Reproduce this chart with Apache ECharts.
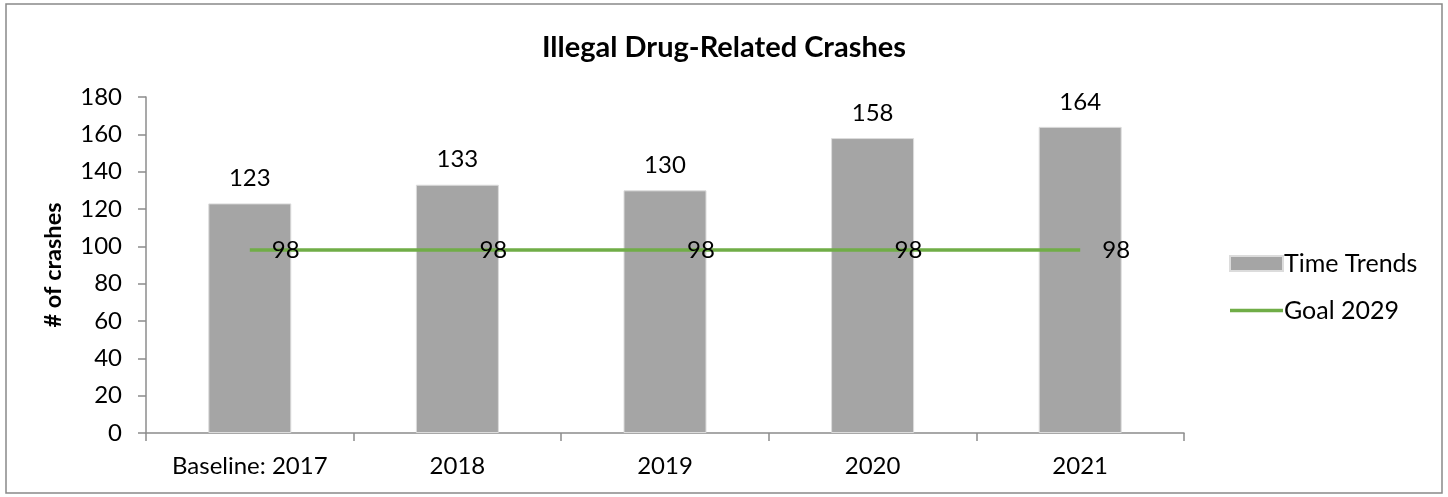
<!DOCTYPE html>
<html>
<head>
<meta charset="utf-8">
<script src="https://cdn.jsdelivr.net/npm/echarts@6/dist/echarts.min.js"></script>
<style>
  html, body { margin: 0; padding: 0; background: #fff; }
  #chart { width: 1448px; height: 497px; }
</style>
</head>
<body>
<div id="chart"></div>
<script>
// Illegal drug-related crashes by year, with the 2029 goal line
const categories = ['Baseline: 2017', '2018', '2019', '2020', '2021'];
const timeTrends = [123, 133, 130, 158, 164];
const goal2029 = [98, 98, 98, 98, 98];
const yTicks = { min: 0, max: 180, interval: 20 };

const FONT = 'Lato, "Open Sans", sans-serif';
const AXIS_GRAY = '#8c8c8c';
const LABEL_SIZE = 24;

const chart = echarts.init(document.getElementById('chart'), null, { renderer: 'canvas' });

chart.setOption({
  animation: false,
  backgroundColor: '#ffffff',
  textStyle: { fontFamily: FONT, color: '#000' },
  graphic: [{
    type: 'rect',
    shape: { x: 6, y: 4, width: 1436, height: 489 },
    style: { fill: 'none', stroke: '#898989', lineWidth: 1.5 },
    silent: true
  }],
  title: {
    text: 'Illegal Drug-Related Crashes',
    left: 'center',
    top: 28,
    textStyle: { fontFamily: FONT, fontWeight: 'bold', fontSize: 29, color: '#000' }
  },
  legend: {
    orient: 'vertical',
    left: 1224,
    top: 246,
    itemWidth: 53,
    itemHeight: 15,
    itemGap: 22,
    textStyle: { fontFamily: FONT, fontSize: 25, color: '#000', padding: [0, 0, 0, -4] },
    data: [
      { name: 'Time Trends', icon: 'rect' },
      { name: 'Goal 2029', icon: 'path://M0 0H53V3.5H0Z', itemStyle: { color: '#70ad47' } }
    ]
  },
  grid: { left: 146, right: 264, top: 97, bottom: 64, containLabel: false },
  xAxis: {
    type: 'category',
    data: categories,
    boundaryGap: true,
    axisLine: { lineStyle: { color: AXIS_GRAY, width: 1.5 } },
    axisTick: { show: true, length: 8, alignWithLabel: false, lineStyle: { color: AXIS_GRAY, width: 1.5 } },
    axisLabel: { fontFamily: FONT, fontSize: LABEL_SIZE, color: '#000', margin: 21 },
    splitLine: { show: false }
  },
  yAxis: {
    type: 'value',
    min: yTicks.min,
    max: yTicks.max,
    interval: yTicks.interval,
    name: '# of crashes',
    nameLocation: 'middle',
    nameGap: 81,
    nameRotate: 90,
    nameTextStyle: { fontFamily: FONT, fontWeight: 'bold', fontSize: 23.5, color: '#000' },
    axisLine: { show: true, lineStyle: { color: AXIS_GRAY, width: 1.5 } },
    axisTick: { show: true, length: 8, lineStyle: { color: AXIS_GRAY, width: 1.5 } },
    axisLabel: { fontFamily: FONT, fontSize: LABEL_SIZE, color: '#000', margin: 24 },
    splitLine: { show: false }
  },
  series: [
    {
      name: 'Time Trends',
      type: 'bar',
      data: timeTrends,
      barWidth: 83,
      itemStyle: { color: '#a5a5a5', borderColor: '#dcdcdc', borderWidth: 1 },
      label: {
        show: true,
        position: 'top',
        distance: 13,
        fontFamily: FONT,
        fontSize: LABEL_SIZE,
        color: '#000'
      },
      z: 2
    },
    {
      name: 'Goal 2029',
      type: 'line',
      data: goal2029,
      symbol: 'circle',
      symbolSize: 0.01,
      showSymbol: true,
      lineStyle: { color: '#70ad47', width: 3.5 },
      itemStyle: { color: '#70ad47' },
      label: {
        show: true,
        position: 'right',
        distance: 22,
        fontFamily: FONT,
        fontSize: LABEL_SIZE,
        color: '#000'
      },
      z: 3
    }
  ]
});
</script>
</body>
</html>
